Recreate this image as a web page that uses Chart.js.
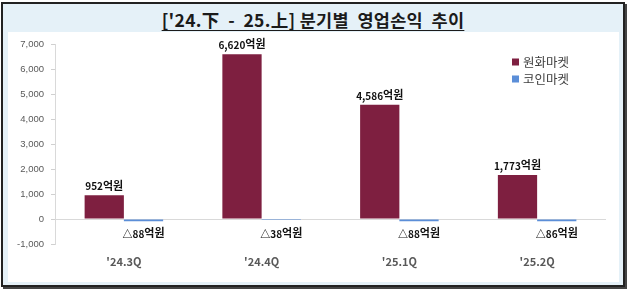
<!DOCTYPE html>
<html>
<head>
<meta charset="utf-8">
<script src="https://cdn.jsdelivr.net/npm/chart.js@4"></script>
<style>
  html, body { margin: 0; padding: 0; background: #fff; }
  body { width: 633px; height: 291px; position: relative; overflow: hidden; }
  #frame {
    position: absolute; left: 1px; top: 2px; width: 620px; height: 281px;
    border: 2px solid #222; box-shadow: 2px 2px 0 #444; background: #e5f1f8;
  }
  #title {
    position: absolute; left: 0; top: 6px; width: 100%; text-align: center;
    font-family: "Noto Sans CJK KR", "Noto Sans", sans-serif; font-weight: 700;
    font-size: 17.5px; line-height: 20px; color: #1b1b1b; white-space: pre;
    letter-spacing: 0.3px;
    text-decoration: underline; text-underline-offset: 3px;
  }
  #plot { position: absolute; left: 5px; top: 28px; width: 611px; height: 250px; background: #fff; }
</style>
</head>
<body>
<div id="frame">
  <div id="title">['24.下  -  25.上] 분기별  영업손익  추이</div>
  <div id="plot"><canvas id="chart" width="611" height="250"></canvas></div>
</div>
<script>
// ── data ────────────────────────────────────────────────────────────
const quarters = ["'24.3Q", "'24.4Q", "'25.1Q", "'25.2Q"];
const wonMarket = [952, 6620, 4586, 1773];
const coinMarket = [-88, -38, -88, -86];
const seriesNames = ["원화마켓", "코인마켓"];
const yTicks = [-1000, 0, 1000, 2000, 3000, 4000, 5000, 6000, 7000];

const RED = "#7e1f40";
const BLUE = "#5b8ed8";
const KR_FONT = '"Noto Sans CJK KR", "Noto Sans", sans-serif';

// value labels: "952억원" above, "△88억원" below
const valueLabels = {
    id: "valueLabels",
    afterDatasetsDraw(chart) {
        const ctx = chart.ctx;
        ctx.save();
        ctx.fillStyle = "#111";
        chart.data.datasets.forEach((ds, di) => {
            const meta = chart.getDatasetMeta(di);
            meta.data.forEach((bar, i) => {
                const v = ds.data[i];
                const num = (v < 0 ? "△" : "") + Math.abs(v).toLocaleString("en-US");
                ctx.font = "bold 10px " + KR_FONT;
                const w1 = ctx.measureText(num).width;
                ctx.font = "bold 11px " + KR_FONT;
                const w2 = ctx.measureText("억원").width;
                const x0 = bar.x - (w1 + w2) / 2;
                const y = v >= 0 ? bar.y - 10 : chart.scales.y.getPixelForValue(0) + 14;
                ctx.textBaseline = "middle";
                ctx.textAlign = "left";
                ctx.font = "bold 10px " + KR_FONT;
                ctx.fillText(num, x0, y + 1);
                ctx.font = "bold 11px " + KR_FONT;
                ctx.fillText("억원", x0 + w1, y);
            });
        });
        ctx.restore();
    }
};

// legend at top right inside plot
const sideLegend = {
    id: "sideLegend",
    afterDraw(chart) {
        const ctx = chart.ctx;
        ctx.save();
        ctx.font = "12.5px " + KR_FONT;
        ctx.textBaseline = "middle";
        chart.data.datasets.forEach((ds, i) => {
            const y = 30 + i * 17;
            ctx.fillStyle = ds.backgroundColor;
            ctx.fillRect(504, y - 3.5, 7, 7);
            ctx.fillStyle = "#404040";
            ctx.fillText(ds.label, 515, y);
        });
        ctx.restore();
    }
};

const chart = new Chart(document.getElementById("chart").getContext("2d"), {
    type: "bar",
    data: {
        labels: quarters,
        datasets: [
            { label: seriesNames[0], data: wonMarket, backgroundColor: RED },
            { label: seriesNames[1], data: coinMarket, backgroundColor: BLUE },
        ]
    },
    options: {
        responsive: false,
        animation: false,
        events: [],
        layout: { padding: { top: 10, right: 13, bottom: 0, left: 0 } },
        datasets: { bar: { categoryPercentage: 0.57, barPercentage: 1.0 } },
        plugins: {
            legend: { display: false },
            tooltip: { enabled: false },
        },
        scales: {
            x: {
                grid: { display: false },
                border: { display: false },
                ticks: {
                    color: "#595959",
                    padding: 3,
                    font: { family: KR_FONT, size: 11, weight: "bold" },
                },
                afterFit: s => { s.height = 38; },
            },
            y: {
                min: yTicks[0],
                max: yTicks[yTicks.length - 1],
                afterBuildTicks: s => { s.ticks = yTicks.map(v => ({ value: v })); },
                grid: {
                    color: c => c.tick && c.tick.value === 0 ? "#d9d9d9" : "rgba(0,0,0,0)",
                    tickColor: "#d0d0d0",
                    tickLength: 4,
                    lineWidth: 1,
                },
                border: { color: "#d9d9d9" },
                ticks: {
                    color: "#595959",
                    padding: 7,
                    font: { family: "Liberation Sans", size: 9.5 },
                    callback: v => v.toLocaleString("en-US"),
                },
                afterFit: s => { s.width = 47; },
            },
        },
    },
    plugins: [valueLabels, sideLegend],
});
</script>
</body>
</html>
